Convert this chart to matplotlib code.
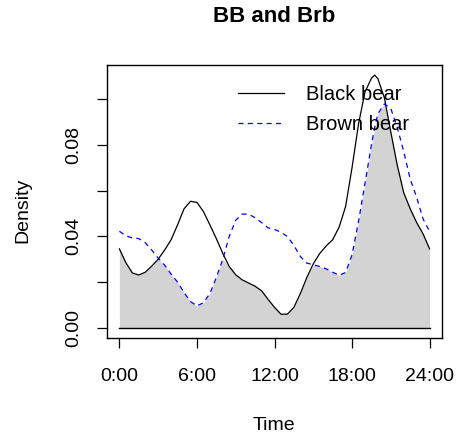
import numpy as np
import matplotlib.pyplot as plt

plt.rcParams['font.family'] = ['Liberation Sans', 'DejaVu Sans']

# time of day (hours) and the two density curves
hours = [0, 0.5, 1, 1.5, 2, 2.5, 3, 3.5, 4, 4.5, 5, 5.5, 6, 6.5, 7, 7.5,
         8, 8.5, 9, 9.5, 10, 10.5, 11, 11.5, 12, 12.5, 13, 13.5, 14, 14.5,
         15, 15.5, 16, 16.5, 17, 17.5, 18, 18.5, 19, 19.5, 19.75, 20, 20.5,
         21, 21.5, 22, 22.5, 23, 23.5, 24]
black_bear = [0.0345, 0.0285, 0.0240, 0.0231, 0.0243, 0.0270, 0.0300, 0.0340,
              0.0385, 0.0450, 0.0520, 0.0553, 0.0548, 0.0508, 0.0450, 0.0390,
              0.0325, 0.0268, 0.0232, 0.0210, 0.0196, 0.0182, 0.0162, 0.0125,
              0.0090, 0.0060, 0.0060, 0.0090, 0.0150, 0.0220, 0.0280, 0.0325,
              0.0358, 0.0385, 0.0440, 0.0530, 0.0700, 0.0890, 0.1030, 0.1090,
              0.1104, 0.1088, 0.1005, 0.0855, 0.0710, 0.0590, 0.0520, 0.0460,
              0.0410, 0.0345]
brown_bear = [0.0422, 0.0402, 0.0393, 0.0390, 0.0372, 0.0340, 0.0305, 0.0274,
              0.0235, 0.0200, 0.0155, 0.0115, 0.0096, 0.0110, 0.0150, 0.0220,
              0.0300, 0.0400, 0.0470, 0.0497, 0.0497, 0.0481, 0.0460, 0.0437,
              0.0430, 0.0418, 0.0399, 0.0360, 0.0312, 0.0283, 0.0276, 0.0268,
              0.0258, 0.0243, 0.0230, 0.0242, 0.0319, 0.0465, 0.0630, 0.0800,
              0.0875, 0.0935, 0.0978, 0.0958, 0.0875, 0.0770, 0.0650, 0.0570,
              0.0475, 0.0422]
xticks = [0, 6, 12, 18, 24]
xtick_labels = ["0:00", "6:00", "12:00", "18:00", "24:00"]

hours = np.array(hours)
black_bear = np.array(black_bear)
brown_bear = np.array(brown_bear)
overlap = np.minimum(black_bear, brown_bear)

W, H = 457, 440
fig = plt.figure(figsize=(W / 100, H / 100), dpi=100)
ax = fig.add_axes([107 / W, 1 - 338 / H, (442 - 107) / W, (338 - 65) / H])

ax.fill_between(hours, 0, overlap, color="#D3D3D3", linewidth=0)
ax.plot([0, 24], [0, 0], color="black", lw=1)
ax.plot(hours, black_bear, color="black", lw=0.9, label="Black bear")
ax.plot(hours, brown_bear, color="blue", lw=0.9, dashes=(4, 3.5),
        label="Brown bear")

ax.set_xlim(-0.96, 24.96)
ax.set_ylim(-0.0044, 0.1148)
ax.set_xticks(xticks)
ax.set_xticklabels(xtick_labels)
ax.set_yticks([0, 0.02, 0.04, 0.06, 0.08, 0.10])
ax.set_yticklabels(["0.00", "", "0.04", "", "0.08", ""], rotation=90,
                   va="center")
ax.tick_params(length=7.5, width=0.9, labelsize=14, direction="out")
ax.tick_params(axis="x", pad=14)
ax.tick_params(axis="y", pad=10)
for s in ax.spines.values():
    s.set_linewidth(1)

ax.legend(loc="upper left", bbox_to_anchor=(238 / W, 1 - 85 / H),
          bbox_transform=fig.transFigure, frameon=False, fontsize=14.5,
          borderpad=0, borderaxespad=0, handlelength=2.3, handletextpad=1.1,
          labelspacing=0.55)

fig.text(274 / W, 1 - 17 / H, "BB and Brb", ha="center", va="center",
         fontsize=16, fontweight="bold")
fig.text(23 / W, 1 - 210 / H, "Density", ha="center", va="center",
         rotation=90, fontsize=14)
fig.text(274 / W, 1 - 425 / H, "Time", ha="center", va="center", fontsize=14)

fig.savefig("out.png", dpi=100)
